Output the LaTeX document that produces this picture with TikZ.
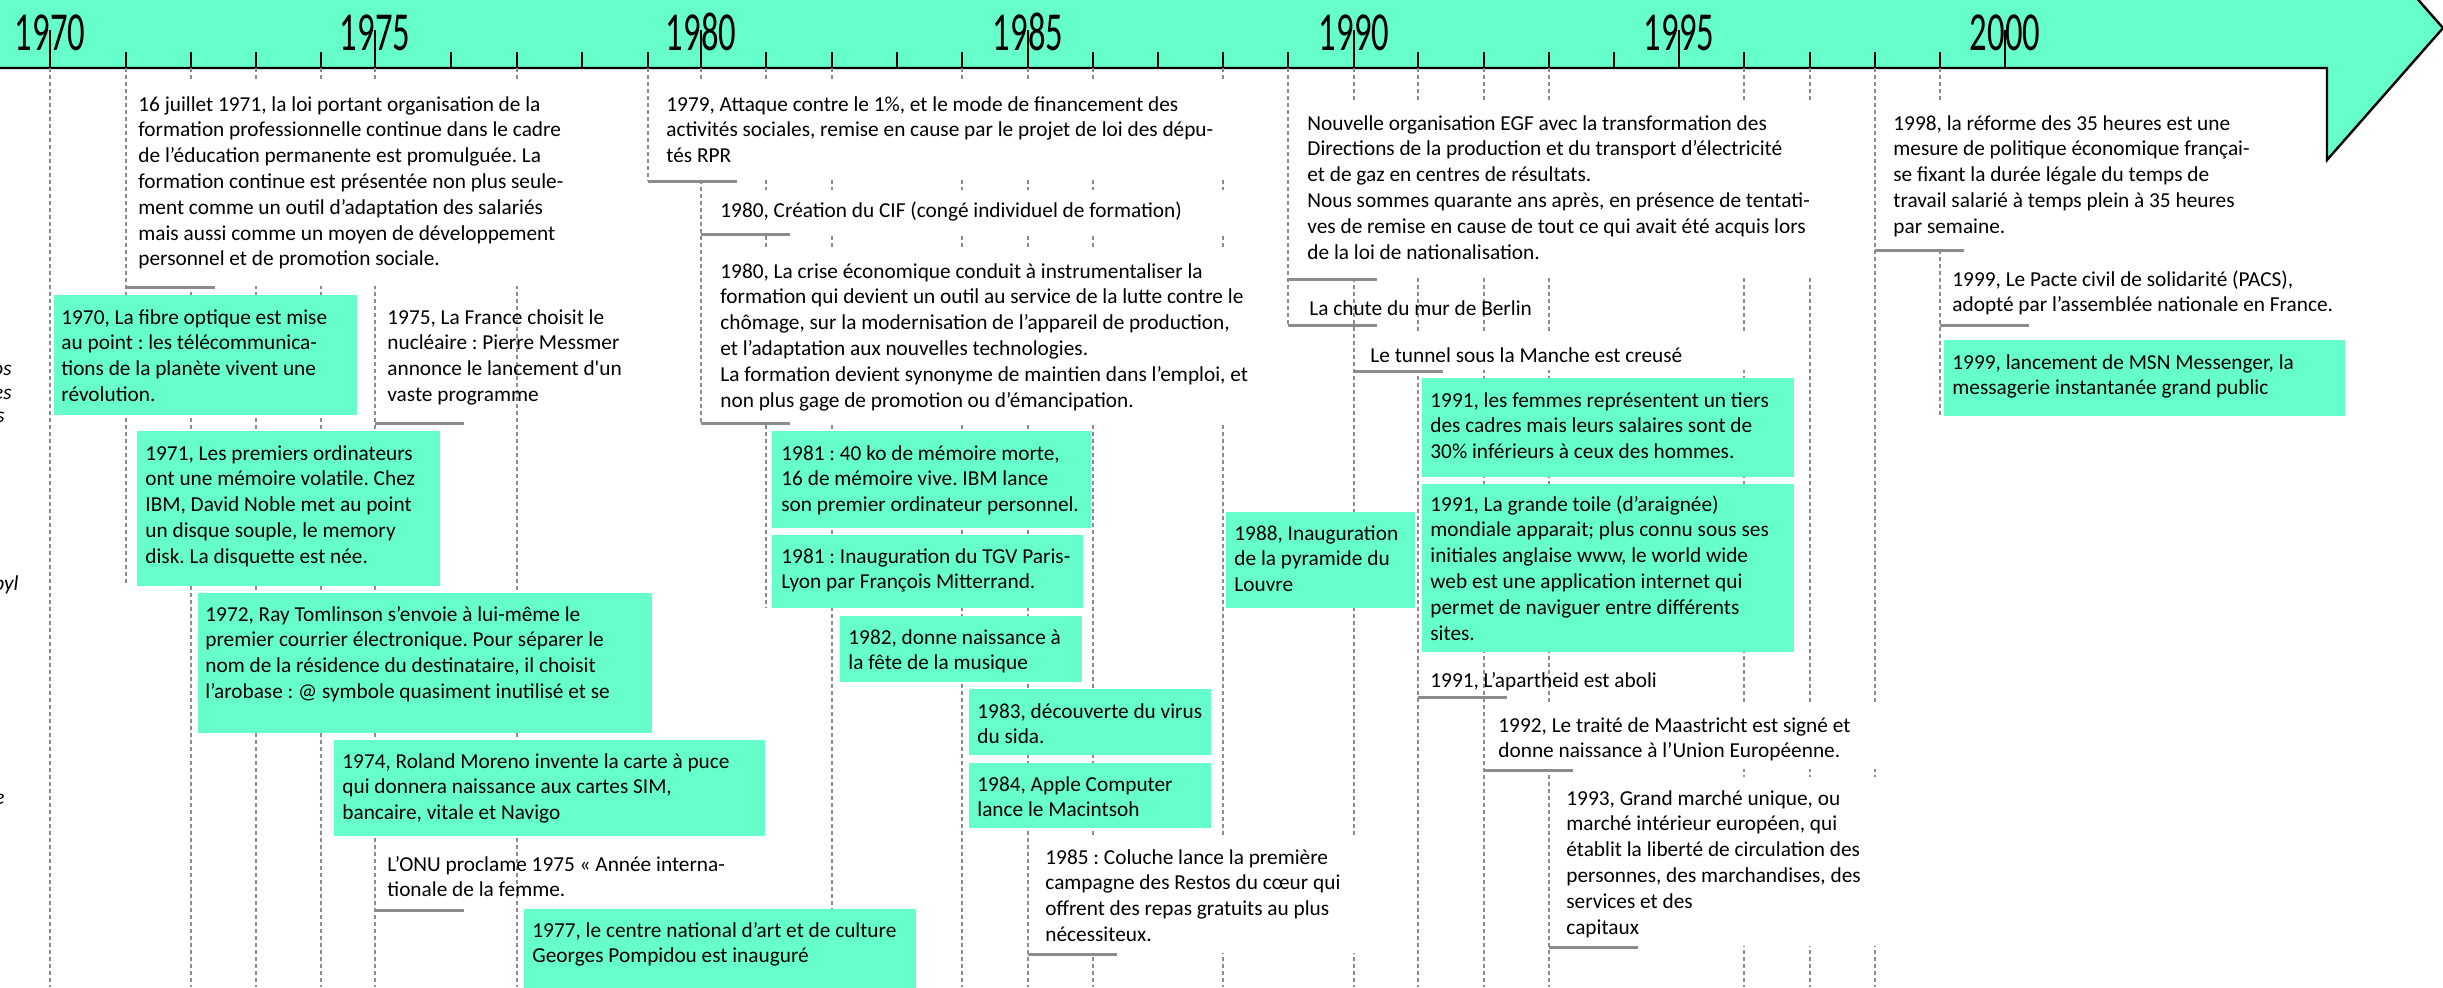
\documentclass[tikz,border=0pt]{standalone}
\usepackage{fontspec}
\setmainfont{Carlito}
\frenchspacing
\definecolor{gfill}{RGB}{102,255,204}
\definecolor{gline}{RGB}{140,140,140}
\newcommand{\ml}[1]{\begin{tabular}[t]{@{}l@{}}#1\end{tabular}}
\newcommand{\bodyfont}{\fontsize{10.65pt}{12.9pt}\selectfont\frenchspacing}
\newcommand{\yrtxt}[1]{\scalebox{0.63}[1]{#1}}
\tikzset{
  txt/.style={inner sep=0pt, anchor=base west, font=\bodyfont},
  frag/.style={inner sep=0pt, anchor=base east, font=\bodyfont\itshape},
  yearlbl/.style={inner sep=0pt, anchor=base, font=\fontsize{27.5pt}{30pt}\selectfont},
  dashl/.style={draw=gline, line width=0.6pt, dash pattern=on 2pt off 1.5pt},
  grayl/.style={draw=gline, line width=1.5pt},
  tickl/.style={draw=black, line width=1.2pt},
  gboxf/.style={fill=gfill},
  wboxf/.style={fill=white},
}
\begin{document}
\begin{tikzpicture}[x=0.5pt,y=-0.5pt]
\useasboundingbox (0,0) rectangle (2443,987);
\clip (0,0) rectangle (2443,987);
% band with arrow head
\draw[fill=gfill, line width=1.2pt] (-20,-12) -- (2327,-12) -- (2327,-104) -- (2443,28) -- (2327,160) -- (2327,68) -- (-20,68) -- cycle;
% major ticks and years
\foreach \yr/\x in {1970/50,1975/375,1980/701,1985/1028,1990/1354,1995/1679,2000/2005}{
  \draw[tickl] (\x,30) -- (\x,68);
  \node[yearlbl] (y\yr) at (\x,50) {\yrtxt{\yr}};
}
% minor ticks
\foreach \x in {126,191,256,321,451,517,582,648,766,832,897,962,1093,1158,1223,1288,1418,1484,1549,1614,1744,1810,1875,1940}{
  \draw[tickl] (\x,52) -- (\x,68);
}
% dashed date lines
\foreach \n/\x/\e in {a/50/987,b/126/586,c/191/987,d/256/987,e/321/987,f/375/987,g/517/987,h/648/181,i/701/423,j/766/608,k/832/987,l/962/987,m/1028/987,n/1093/987,o/1223/987,p/1288/325,q/1354/987,r/1418/987,s/1484/987,t/1549/987,u/1744/987,v/1810/987,w/1875/987,z/1940/416}{
  \coordinate (ts\n) at (\x,68);
  \coordinate (te\n) at (\x,\e);
  \draw[dashl] (ts\n) -- (te\n);
}
% white backgrounds of text blocks
\fill[wboxf] (128,82) rectangle (600,286);
\fill[wboxf] (650,82) rectangle (1255,180);
\fill[wboxf] (703,190) rectangle (1255,233);
\fill[wboxf] (703,247) rectangle (1265,422);
\fill[wboxf] (1290,101) rectangle (1850,278);
\fill[wboxf] (1356,333) rectangle (1780,370);
\fill[wboxf] (1486,703) rectangle (1900,769);
\fill[wboxf] (1551,777) rectangle (1900,946);
\fill[wboxf] (1030,835) rectangle (1380,953);
\fill[wboxf] (1877,101) rectangle (2300,249);
% gray underlines
\foreach \x/\y in {126/287,648/181,701/234,701/423,375/423,375/910,1028/954,1288/279,1288/325,1354/371,1418/697,1484/770,1549/947,1875/250,1940/325}{
  \draw[grayl] (\x,\y) -- ++(89,0);
}
% green boxes
\fill[gboxf] (54,295) rectangle (357,415);
\fill[gboxf] (137,431) rectangle (440,586);
\fill[gboxf] (198,593) rectangle (652,733);
\fill[gboxf] (334,740) rectangle (765,836);
\fill[gboxf] (524,909) rectangle (916,1000);
\fill[gboxf] (772,431) rectangle (1091,528);
\fill[gboxf] (772,535) rectangle (1083,608);
\fill[gboxf] (840,616) rectangle (1082,682);
\fill[gboxf] (969,689) rectangle (1211,755);
\fill[gboxf] (969,763) rectangle (1211,828);
\fill[gboxf] (1226,512) rectangle (1415,608);
\fill[gboxf] (1422,378) rectangle (1794,477);
\fill[gboxf] (1422,484) rectangle (1794,652);
\fill[gboxf] (1944,340) rectangle (2345,416);
% texts in green boxes
\node[txt] (e1970) at (61,324) {\ml{1970, La fibre optique est mise\\au point : les télécommunica-\\tions de la planète vivent une\\révolution.}};
\node[txt] (e1971b) at (145,460) {\ml{1971, Les premiers ordinateurs\\ont une mémoire volatile. Chez\\IBM, David Noble met au point\\un disque souple, le memory\\disk. La disquette est née.}};
\node[txt] (e1972) at (205,621) {\ml{1972, Ray Tomlinson s’envoie à lui-même le\\premier courrier électronique. Pour séparer le\\nom de la résidence du destinataire, il choisit\\l’arobase : @ symbole quasiment inutilisé et se}};
\node[txt] (e1974) at (342,768) {\ml{1974, Roland Moreno invente la carte à puce\\qui donnera naissance aux cartes SIM,\\bancaire, vitale et Navigo}};
\node[txt] (e1977) at (532,937) {\ml{1977, le centre national d’art et de culture\\Georges Pompidou est inauguré}};
\node[txt] (e1981a) at (781,460) {\ml{1981 : 40 ko de mémoire morte,\\16 de mémoire vive. IBM lance\\son premier ordinateur personnel.}};
\node[txt] (e1981b) at (781,563) {\ml{1981 : Inauguration du TGV Paris-\\Lyon par François Mitterrand.}};
\node[txt] (e1982) at (848,644) {\ml{1982, donne naissance à\\la fête de la musique}};
\node[txt] (e1983) at (977,718) {\ml{1983, découverte du virus\\du sida.}};
\node[txt] (e1984) at (977,791) {\ml{1984, Apple Computer\\lance le Macintsoh}};
\node[txt] (e1988) at (1234,540) {\ml{1988, Inauguration\\de la pyramide du\\Louvre}};
\node[txt] (e1991a) at (1430,407) {\ml{1991, les femmes représentent un tiers\\des cadres mais leurs salaires sont de\\30\% inférieurs à ceux des hommes.}};
\node[txt] (e1991b) at (1430,511) {\ml{1991, La grande toile (d’araignée)\\mondiale apparait; plus connu sous ses\\initiales anglaise www, le world wide\\web est une application internet qui\\permet de naviguer entre différents\\sites.}};
\node[txt] (e1999b) at (1952,369) {\ml{1999, lancement de MSN Messenger, la\\messagerie instantanée grand public}};
% plain texts
\node[txt] (e1971a) at (138,111) {\ml{16 juillet 1971, la loi portant organisation de la\\formation professionnelle continue dans le cadre\\de l’éducation permanente est promulguée. La\\formation continue est présentée non plus seule-\\ment comme un outil d’adaptation des salariés\\mais aussi comme un moyen de développement\\personnel et de promotion sociale.}};
\node[txt] (e1979) at (666,111) {\ml{1979, Attaque contre le 1\%, et le mode de financement des\\activités sociales, remise en cause par le projet de loi des dépu-\\tés RPR}};
\node[txt] (e1980a) at (720,217) {1980, Création du CIF (congé individuel de formation)};
\node[txt] (e1980b) at (720,278) {\ml{1980, La crise économique conduit à instrumentaliser la\\formation qui devient un outil au service de la lutte contre le\\chômage, sur la modernisation de l’appareil de production,\\et l’adaptation aux nouvelles technologies.\\La formation devient synonyme de maintien dans l’emploi, et\\non plus gage de promotion ou d’émancipation.}};
\node[txt] (e1975a) at (387,324) {\ml{1975, La France choisit le\\nucléaire : Pierre Messmer\\annonce le lancement d\textquotesingle un\\vaste programme}};
\node[txt] (e1975b) at (387,871) {\ml{L’ONU proclame 1975 « Année interna-\\tionale de la femme.}};
\node[txt] (e1985) at (1045,864) {\ml{1985 : Coluche lance la première\\campagne des Restos du cœur qui\\offrent des repas gratuits au plus\\nécessiteux.}};
\node[txt] (eEGF) at (1307,130) {\ml{Nouvelle organisation EGF avec la transformation des\\Directions de la production et du transport d’électricité\\et de gaz en centres de résultats.\\Nous sommes quarante ans après, en présence de tentati-\\ves de remise en cause de tout ce qui avait été acquis lors\\de la loi de nationalisation.}};
\node[txt] (e1989) at (1309,315) {La chute du mur de Berlin};
\node[txt] (e1990) at (1370,362) {Le tunnel sous la Manche est creusé};
\node[txt] (e1991c) at (1430,687) {1991, L’apartheid est aboli};
\node[txt] (e1992) at (1498,732) {\ml{1992, Le traité de Maastricht est signé et\\donne naissance à l’Union Européenne.}};
\node[txt] (e1993) at (1566,805) {\ml{1993, Grand marché unique, ou\\marché intérieur européen, qui\\établit la liberté de circulation des\\personnes, des marchandises, des\\services et des\\capitaux}};
\node[txt] (e1998) at (1893,130) {\ml{1998, la réforme des 35 heures est une\\mesure de politique économique françai-\\se fixant la durée légale du temps de\\travail salarié à temps plein à 35 heures\\par semaine.}};
\node[txt] (e1999a) at (1952,286) {\ml{1999, Le Pacte civil de solidarité (PACS),\\adopté par l’assemblée nationale en France.}};
% clipped fragments at the left edge
\node[frag] (f1) at (12,375) {os};
\node[frag] (f2) at (12,399) {es};
\node[frag] (f3) at (5,422) {s};
\node[frag] (f4) at (19,590) {byl};
\node[frag] (f5) at (5,804) {e};
\end{tikzpicture}
\end{document}
